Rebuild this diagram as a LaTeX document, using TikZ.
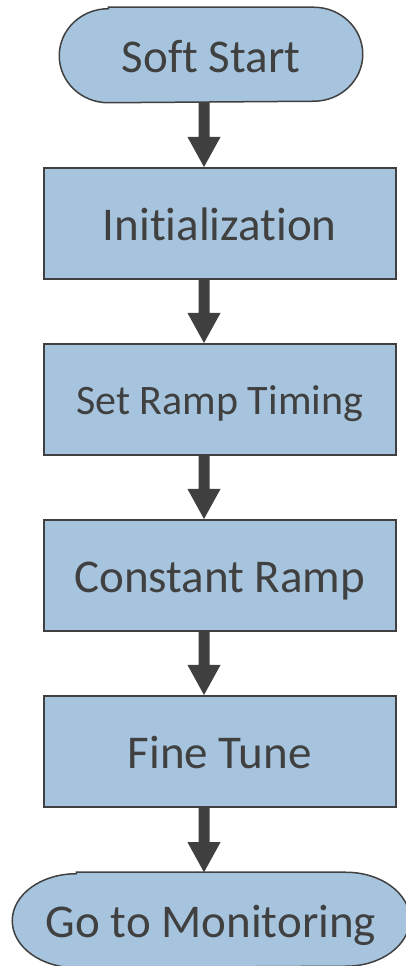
\documentclass[tikz,border=0pt]{standalone}
\usepackage{fontspec}
\setmainfont[Ligatures={NoCommon}]{Carlito}
\usetikzlibrary{calc,backgrounds}

\definecolor{boxfill}{HTML}{A7C4DE}
\definecolor{ink}{HTML}{404040}

\tikzset{
  flowtext/.style={font=\fontsize{47}{56}\selectfont, text=ink, inner sep=0pt,
    text height=45pt, text depth=10.5pt, align=center},
  smalltext/.style={font=\fontsize{42}{50}\selectfont,
    text height=40pt, text depth=9.2pt},
  stepbox/.style={flowtext, draw=ink, line width=2pt, fill=boxfill,
    minimum width=351.5pt, minimum height=111pt, outer sep=1pt},
  termnode/.style={flowtext, minimum height=94pt, outer sep=0.75pt},
  termline/.style={draw=ink, line width=1.5pt, fill=boxfill},
  flowarrow/.style={fill=ink, draw=none}
}

% stadium-shaped terminator behind a named node: #1 node, #2 end radius
\newcommand{\terminatorshape}[2]{%
  \path[termline]
    ($(#1.north west)+(#2,0)$) -- ($(#1.north east)+(-#2,0)$)
    arc[start angle=90, end angle=-90, x radius=#2, y radius=47]
    -- ($(#1.south west)+(#2,0)$)
    arc[start angle=270, end angle=90, x radius=#2, y radius=47]
    -- cycle;}

% thick block arrow from the bottom of #1 to the top of #2, on column ax
\newcommand{\blockarrow}[2]{%
  \fill[flowarrow]
    ($(#1.south -| ax)+(-5.5,0)$) -- ($(#1.south -| ax)+(5.5,0)$)
    -- ($(#2.north -| ax)+(5.5,30)$) -- ($(#2.north -| ax)+(16.5,30)$)
    -- (#2.north -| ax)
    -- ($(#2.north -| ax)+(-16.5,30)$) -- ($(#2.north -| ax)+(-5.5,30)$)
    -- cycle;}

\begin{document}
\begin{tikzpicture}[x=1pt, y=1pt]
  \useasboundingbox (0,0) rectangle (406,966);
  \clip (0,0) rectangle (406,966);

  \coordinate (ax) at (204,0);

  % process steps
  \node[termnode, minimum width=302pt] (start) at (211,911) {Soft Start};
  \node[stepbox] (init)  at (219.75,742.5) {Initialization};
  \node[stepbox, smalltext] (ramp) at (219.75,566.5) {Set Ramp Timing};
  \node[stepbox] (const) at (219.75,390.5) {Constant Ramp};
  \node[stepbox] (fine)  at (219.75,214.5) {Fine Tune};
  \node[termnode, minimum width=396pt] (mon) at (211,46) {Go to Monitoring};

  % terminator outlines
  \begin{scope}[on background layer]
    \terminatorshape{start}{49}
    \terminatorshape{mon}{64}
  \end{scope}

  % connectors
  \blockarrow{start}{init}
  \blockarrow{init}{ramp}
  \blockarrow{ramp}{const}
  \blockarrow{const}{fine}
  \blockarrow{fine}{mon}
\end{tikzpicture}
\end{document}
